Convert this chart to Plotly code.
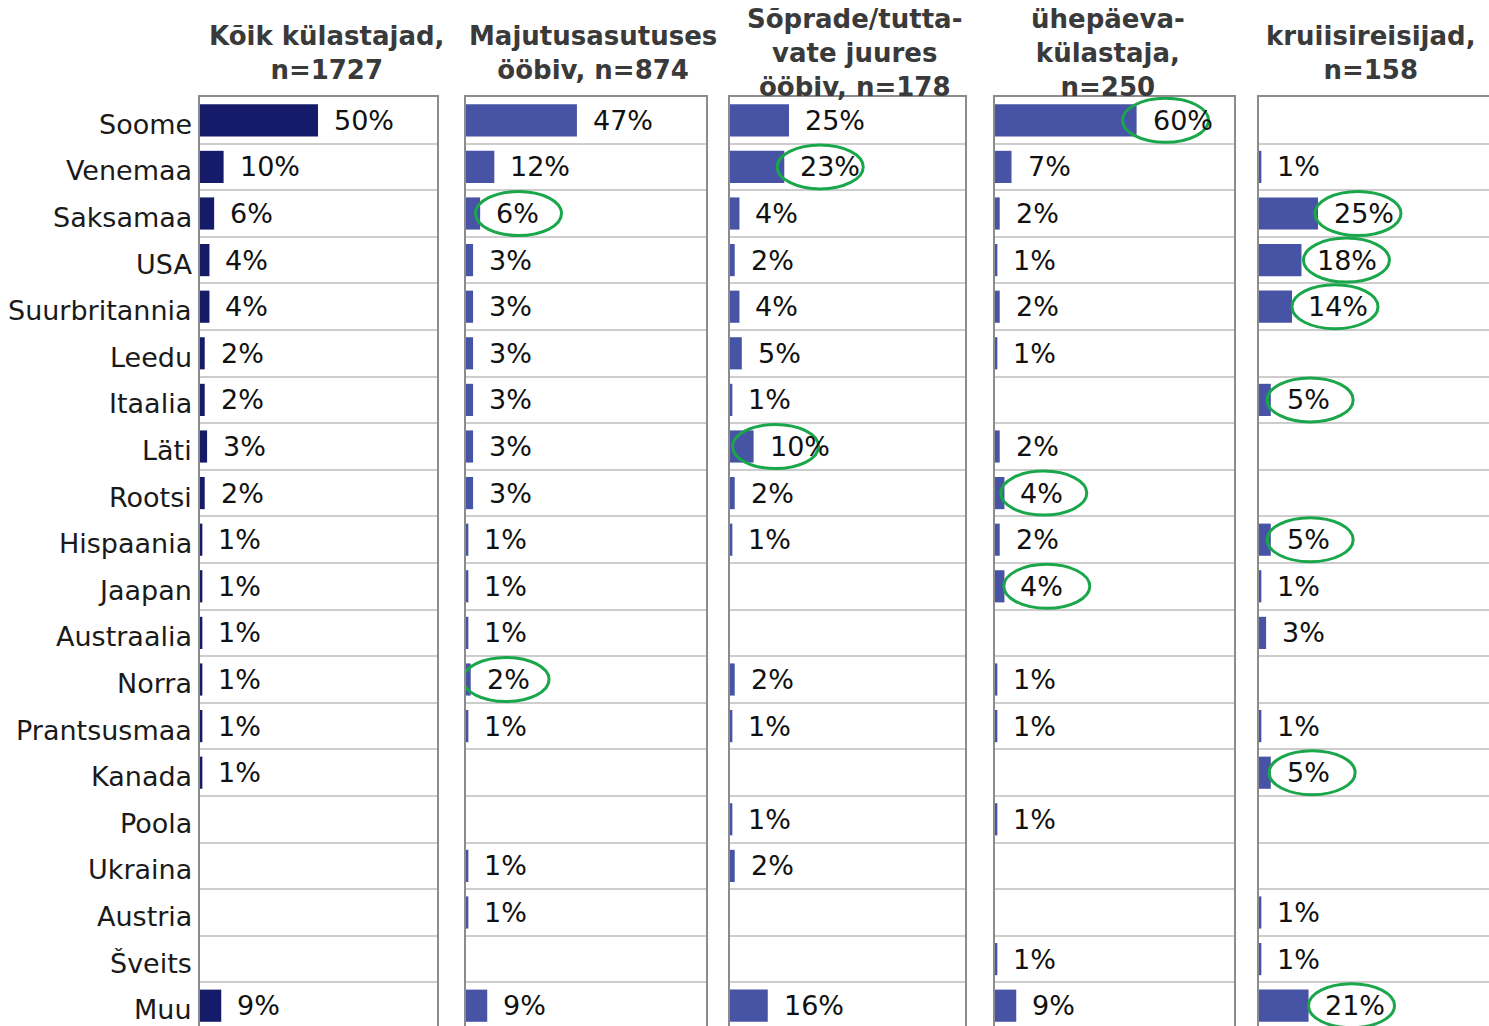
import plotly.graph_objects as go

# ---------------- data ----------------
categories = ["Soome", "Venemaa", "Saksamaa", "USA", "Suurbritannia", "Leedu", "Itaalia",
              "Läti", "Rootsi", "Hispaania", "Jaapan", "Austraalia", "Norra", "Prantsusmaa",
              "Kanada", "Poola", "Ukraina", "Austria", "Šveits", "Muu"]

panel_titles = ["Kõik külastajad,<br>n=1727",
                "Majutusasutuses<br>ööbiv, n=874",
                "Sõprade/tutta-<br>vate juures<br>ööbiv, n=178",
                "ühepäeva-<br>külastaja,<br>n=250",
                "kruiisireisijad,<br>n=158"]

koik = [50, 10, 6, 4, 4, 2, 2, 3, 2, 1, 1, 1, 1, 1, 1, None, None, None, None, 9]
majutus = [47, 12, 6, 3, 3, 3, 3, 3, 3, 1, 1, 1, 2, 1, None, None, 1, 1, None, 9]
sobrad = [25, 23, 4, 2, 4, 5, 1, 10, 2, 1, None, None, 2, 1, None, 1, 2, None, None, 16]
uhepaeva = [60, 7, 2, 1, 2, 1, None, 2, 4, 2, 4, None, 1, 1, None, 1, None, None, 1, 9]
kruiis = [None, 1, 25, 18, 14, None, 5, None, None, 5, 1, 3, None, 1, 5, None, None, 1, 1, 21]

series = [koik, majutus, sobrad, uhepaeva, kruiis]

# highlighted labels: (panel index, category, horizontal nudge in px)
highlights = [(1, "Saksamaa", 3), (1, "Norra", 0),
              (2, "Venemaa", -8), (2, "Läti", -22),
              (3, "Soome", -15), (3, "Rootsi", 4), (3, "Jaapan", 7),
              (4, "Saksamaa", -4), (4, "USA", 1), (4, "Suurbritannia", -1),
              (4, "Itaalia", 4), (4, "Hispaania", 4), (4, "Kanada", 6), (4, "Muu", -1)]

# ---------------- layout ----------------
W, H = 1489, 1026
TOP = 97
ROW_PX = 46.6
PX_PER_PCT = 2.36
panel_px = [(200, 437), (466, 706), (730, 965), (995, 1234), (1259, 1489)]
title_cx = [326, 593, 854, 1108, 1371]
bar_colors = ["#151b69", "#4753a4", "#4753a4", "#4753a4", "#4753a4"]
border = "#8c8c8c"
grid = "#cdcdcd"
FONT = "DejaVu Sans"

n = len(categories)
yidx = list(range(n))
plot_h = H - TOP
y_bottom = -0.5 + plot_h / ROW_PX

fig = go.Figure()
annotations = []
shapes = []

def label_width(v):
    return 17.2 * len(str(v)) + 25.5

for k, vals in enumerate(series):
    ax = "" if k == 0 else str(k + 1)
    xs = [v for v in vals if v is not None]
    ys = [i for i, v in enumerate(vals) if v is not None]
    fig.add_trace(go.Bar(
        x=xs, y=ys, orientation="h", width=0.69,
        marker=dict(color=bar_colors[k], line=dict(width=0)),
        xaxis="x" + ax, yaxis="y" + ax, showlegend=False, hoverinfo="x+y"))
    x0, x1 = panel_px[k]
    d0, d1 = x0 / W, x1 / W
    fig.layout["xaxis" + ax] = dict(
        domain=[d0, d1], range=[0, (x1 - x0) / PX_PER_PCT], anchor="y" + ax,
        showgrid=False, zeroline=False, showticklabels=False, ticks="",
        showline=True, linecolor=border, linewidth=2, side="top", mirror=False)
    fig.layout["yaxis" + ax] = dict(
        domain=[0, plot_h / H], range=[y_bottom, -0.5], anchor="x" + ax,
        tickmode="array", tickvals=yidx,
        showticklabels=False, ticks="",
        showgrid=False, zeroline=False,
        showline=True, linecolor=border, linewidth=2, mirror=(k < 4),
        minor=dict(tickmode="array", tickvals=[i + 0.5 for i in range(n - 1)],
                   showgrid=True, gridcolor=grid, gridwidth=2, ticks=""))
    for i, v in enumerate(vals):
        if v is None:
            continue
        annotations.append(dict(
            x=v, y=i, xref="x" + ax, yref="y" + ax, text=f"{v}%", showarrow=False,
            xanchor="left", yanchor="middle", xshift=14,
            font=dict(family=FONT, size=27, color="#111111")))
    annotations.append(dict(
        x=title_cx[k] / W, y=1 - 53 / H, xref="paper", yref="paper",
        text="<b>" + panel_titles[k] + "</b>", showarrow=False,
        xanchor="center", yanchor="middle", align="center",
        font=dict(family=FONT, size=26, color="#3a3a3a")))

# category labels (left of first panel)
for i, cat in enumerate(categories):
    annotations.append(dict(
        x=0, y=i, xref="x", yref="y", text=cat, showarrow=False,
        xanchor="right", yanchor="middle", xshift=-6, yshift=-4,
        font=dict(family=FONT, size=27, color="#1a1a1a")))

for k, cat, dx in highlights:
    ax = "" if k == 0 else str(k + 1)
    i = categories.index(cat)
    v = series[k][i]
    c = 14 + label_width(v) / 2 + dx
    shapes.append(dict(
        type="circle", xref="x" + ax, yref="y" + ax,
        xsizemode="pixel", ysizemode="pixel", xanchor=v, yanchor=i,
        x0=c - 43, x1=c + 43, y0=-22, y1=22,
        line=dict(color="#1aa64a", width=3), fillcolor="rgba(0,0,0,0)", layer="above"))

fig.update_layout(
    width=W, height=H, margin=dict(l=0, r=0, t=0, b=0),
    paper_bgcolor="white", plot_bgcolor="white",
    bargap=0.31, annotations=annotations, shapes=shapes,
    font=dict(family=FONT))

fig.write_html("out.html", config={"displayModeBar": False},
               post_script="document.body.style.margin='0px';document.body.style.overflow='hidden';")
